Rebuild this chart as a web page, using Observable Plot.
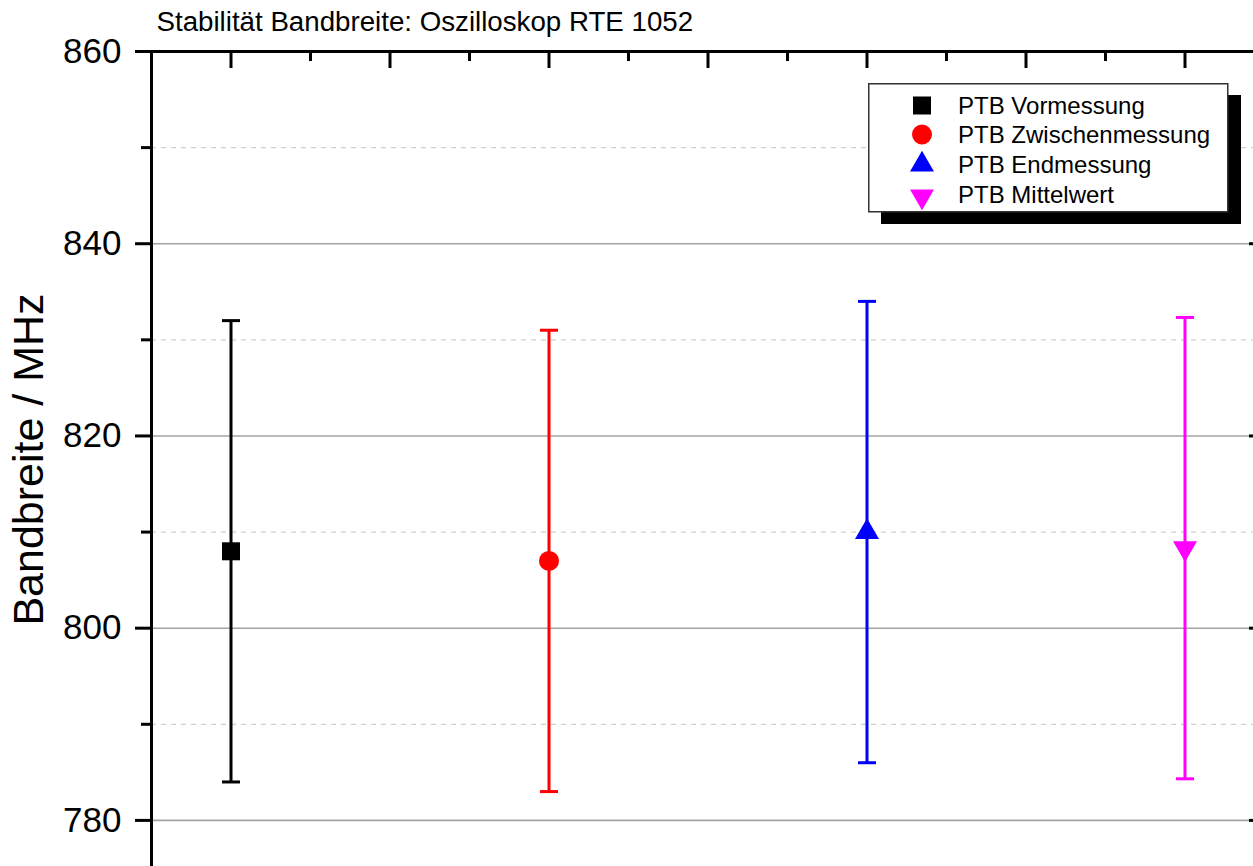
<!DOCTYPE html>
<html>
<head>
<meta charset="utf-8">
<script src="https://cdn.jsdelivr.net/npm/d3@7"></script>
<script src="https://cdn.jsdelivr.net/npm/@observablehq/plot@0.6"></script>
<style>
  html, body { margin: 0; padding: 0; background: #fff; overflow: hidden; }
  #chart { position: relative; width: 1253px; height: 866px; overflow: hidden; }
  #chart svg { display: block; max-width: none !important; }
</style>
</head>
<body>
<div id="chart"></div>
<script>
// Bandwidth stability of the RTE 1052 oscilloscope: three PTB measurements and their mean
const series = ["PTB Vormessung", "PTB Zwischenmessung", "PTB Endmessung", "PTB Mittelwert"];
const positions = [1, 2, 3, 4];
const bandwidth = [808, 807, 810, 808.33];   // MHz
const uncertainty = [24, 24, 24, 24];        // MHz, half width of the error bar
const colors = ["#000000", "#ff0000", "#0000ff", "#ff00ff"];
const symbols = ["square", "circle", "triangle", "triangle"];
const rotations = [0, 0, 0, 180];
const symbolRadius = [10.16, 10, 8.9, 8.9];

// Axis ticks
const majorY = [780, 800, 820, 840, 860];
const minorY = [790, 810, 830, 850];
const majorX = [1, 1.5, 2, 2.5, 3, 3.5, 4];
const minorX = [1.25, 1.75, 2.25, 2.75, 3.25, 3.75];

const font = "Arial, 'Liberation Sans', sans-serif";

const rows = series.map((s, i) => ({
  series: s,
  x: positions[i],
  y: bandwidth[i],
  lo: bandwidth[i] - uncertainty[i],
  hi: bandwidth[i] + uncertainty[i],
  color: colors[i],
  symbol: symbols[i],
  rotate: rotations[i],
  r: symbolRadius[i]
}));
const caps = rows.flatMap(d => [{...d, cap: d.lo}, {...d, cap: d.hi}]);

// horizontal bar used as the error bar cap
const capSymbol = {
  draw(context, size) {
    const w = Math.sqrt(size / Math.PI);
    context.moveTo(-w, 0);
    context.lineTo(w, 0);
  }
};

const chart = Plot.plot({
  width: 1280,
  height: 900,
  marginTop: 51,
  marginLeft: 151,
  marginRight: 16,
  marginBottom: 33,
  style: {fontFamily: font, fontSize: "20px", color: "#000", background: "#fff", overflow: "visible", maxWidth: "none"},
  x: {domain: [0.75, 4.25]},
  y: {domain: [775.1, 860]},
  marks: [
    // grid
    Plot.ruleY(minorY, {stroke: "#cfcfcf", strokeWidth: 1.3, strokeDasharray: "5,5"}),
    Plot.ruleY(majorY.filter(v => v < 860), {stroke: "#a3a3a3", strokeWidth: 1.6}),
    // frame
    Plot.ruleY([860], {stroke: "#000", strokeWidth: 3}),
    Plot.ruleX([0.75], {stroke: "#000", strokeWidth: 3}),
    Plot.ruleX([4.25], {stroke: "#000", strokeWidth: 3}),
    // axes
    Plot.axisY(majorY, {anchor: "left", tickSize: 16, tickPadding: 14, strokeWidth: 3, fontSize: 35, label: null, tickFormat: d => String(d)}),
    Plot.axisY(minorY, {anchor: "left", tickSize: 10, strokeWidth: 3, label: null, tickFormat: () => ""}),
    Plot.axisY(majorY, {anchor: "right", tickSize: -16, strokeWidth: 3, label: null, tickFormat: () => ""}),
    Plot.axisY(minorY, {anchor: "right", tickSize: -9, strokeWidth: 3, label: null, tickFormat: () => ""}),
    Plot.axisX(majorX, {anchor: "top", tickSize: -16, strokeWidth: 3, label: null, tickFormat: () => ""}),
    Plot.axisX(minorX, {anchor: "top", tickSize: -9, strokeWidth: 3, label: null, tickFormat: () => ""}),
    // error bars
    Plot.ruleX(rows, {x: "x", y1: "lo", y2: "hi", stroke: "color", strokeWidth: 3}),
    Plot.dot(caps, {x: "x", y: "cap", stroke: "color", strokeWidth: 3, r: 9, symbol: capSymbol, fill: "none"}),
    // measured values
    ...rows.map(d => Plot.dot([d], {x: "x", y: "y", fill: d.color, stroke: "none", symbol: d.symbol, r: d.r, rotate: d.rotate})),
    // titles
    Plot.text(["Stabilität Bandbreite: Oszilloskop RTE 1052"], {text: d => d, frameAnchor: "top-left", dx: 5, dy: -21, lineAnchor: "bottom", textAnchor: "start", fontSize: 27.7, fill: "#000"}),
    Plot.text(["Bandbreite / MHz"], {text: d => d, frameAnchor: "left", dx: -109, rotate: -90, lineAnchor: "bottom", textAnchor: "middle", fontSize: 43, fill: "#000"})
  ]
});
document.getElementById("chart").append(chart);

// legend box with drop shadow
const legend = d3.select("#chart").append("svg")
  .attr("width", 380).attr("height", 145)
  .style("position", "absolute").style("left", "868px").style("top", "83px");
legend.append("rect").attr("x", 13).attr("y", 12).attr("width", 360).attr("height", 129).attr("fill", "#000");
legend.append("rect").attr("x", 0.75).attr("y", 0.75).attr("width", 359).attr("height", 128)
  .attr("fill", "#fff").attr("stroke", "#333").attr("stroke-width", 1.5);
const symbolTypes = {square: d3.symbolSquare, circle: d3.symbolCircle, triangle: d3.symbolTriangle};
const baselines = [31, 60, 90, 120];
rows.forEach((d, i) => {
  const cy = baselines[i] - 8.5 + (d.rotate ? 2 : 0);
  legend.append("path")
    .attr("d", d3.symbol(symbolTypes[d.symbol], d.r * d.r * Math.PI)())
    .attr("transform", `translate(54,${cy}) rotate(${d.rotate})`)
    .attr("fill", d.color);
  legend.append("text")
    .attr("x", 90).attr("y", baselines[i])
    .attr("font-family", font).attr("font-size", 24).attr("fill", "#000")
    .text(d.series);
});
</script>
</body>
</html>
